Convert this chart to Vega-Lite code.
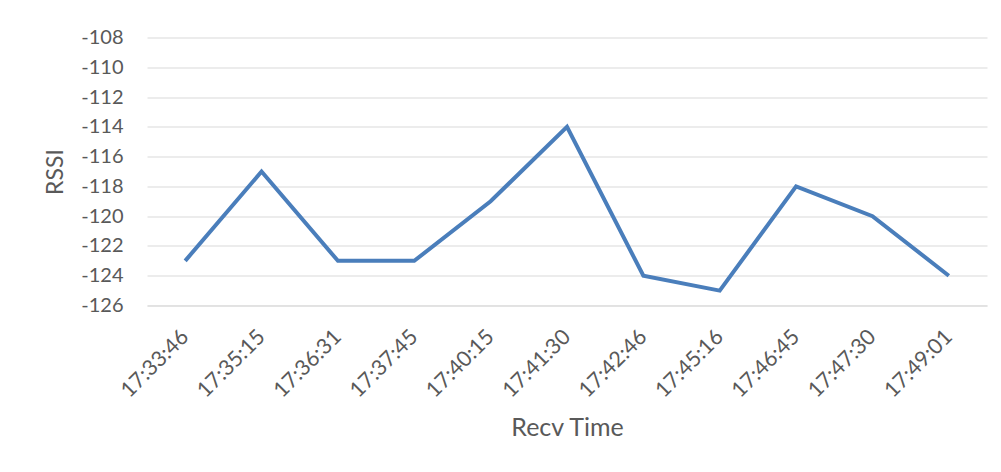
{
  "$schema": "https://vega.github.io/schema/vega-lite/v6.json",
  "autosize": "none",
  "width": 840,
  "height": 268,
  "padding": {"left": 147, "top": 37.5, "right": 14, "bottom": 166},
  "background": "white",
  "config": {
    "view": {"stroke": null},
    "font": "Lato",
    "axis": {"labelFont": "Lato", "titleFont": "Lato", "labelColor": "#595959", "titleColor": "#595959", "titleFontWeight": "normal"}
  },
  "data": {
    "values": [
      {"time": "17:33:46", "rssi": -123},
      {"time": "17:35:15", "rssi": -117},
      {"time": "17:36:31", "rssi": -123},
      {"time": "17:37:45", "rssi": -123},
      {"time": "17:40:15", "rssi": -119},
      {"time": "17:41:30", "rssi": -114},
      {"time": "17:42:46", "rssi": -124},
      {"time": "17:45:16", "rssi": -125},
      {"time": "17:46:45", "rssi": -118},
      {"time": "17:47:30", "rssi": -120},
      {"time": "17:49:01", "rssi": -124}
    ]
  },
  "mark": {"type": "line", "color": "#4a7ebb", "strokeWidth": 4, "strokeJoin": "miter"},
  "encoding": {
    "x": {
      "field": "time",
      "type": "ordinal",
      "sort": null,
      "scale": {"type": "point", "padding": 0.5},
      "axis": {
        "title": "Recv Time",
        "titleFontSize": 25,
        "titlePadding": 14,
        "labelAngle": -45,
        "labelAlign": "right",
        "labelBaseline": "middle",
        "labelFontSize": 21.5,
        "labelPadding": 28,
        "ticks": false,
        "domain": true,
        "domainColor": "#d9d9d9",
        "grid": false
      }
    },
    "y": {
      "field": "rssi",
      "type": "quantitative",
      "scale": {"domain": [-126, -108], "nice": false, "zero": false},
      "axis": {
        "title": "RSSI",
        "titleFontSize": 23,
        "titlePadding": 13,
        "values": [-126, -124, -122, -120, -118, -116, -114, -112, -110, -108],
        "labelExpr": "'' + datum.value",
        "labelFontSize": 20,
        "labelPadding": 24,
        "ticks": false,
        "domain": false,
        "grid": true,
        "gridColor": "#d9d9d9",
        "gridWidth": 1.2
      }
    }
  }
}
